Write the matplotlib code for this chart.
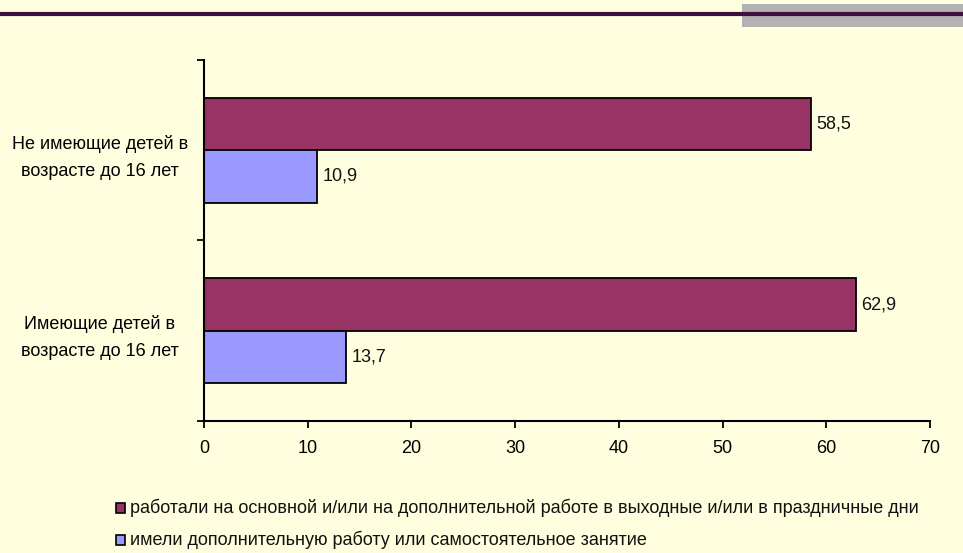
import matplotlib.pyplot as plt
from matplotlib.patches import Rectangle
from matplotlib.lines import Line2D
from matplotlib.transforms import ScaledTranslation

plt.rcParams['font.family'] = ['Liberation Sans', 'DejaVu Sans']

categories = ['Имеющие детей в\nвозрасте до 16 лет', 'Не имеющие детей в\nвозрасте до 16 лет']
weekend_work = [62.9, 58.5]
extra_job = [13.7, 10.9]
series_names = ['работали на основной и/или на дополнительной работе в выходные и/или в праздничные дни',
                'имели дополнительную работу или самостоятельное занятие']
xticks = [0, 10, 20, 30, 40, 50, 60, 70]

bg = '#FFFFE0'
c_purple = '#993366'
c_blue = '#9999FF'
fs = 13

fig = plt.figure(figsize=(9.63, 5.53), dpi=100, facecolor=bg)

# decorative header: gray block and dark line
fig.patches.append(Rectangle((0.7705, 0.9512), 0.24, 0.0416, transform=fig.transFigure,
                             facecolor='#B2B2B2', edgecolor='none', zorder=1))
fig.lines.append(Line2D([0, 1], [0.9747, 0.9747], transform=fig.transFigure,
                        color='#3F0F3F', linewidth=3, zorder=2))

ax = fig.add_axes([0.2118, 0.2387, 0.7539, 0.6528])
ax.set_facecolor(bg)

h = 0.29
pos = [0, 1]
b1 = ax.barh([p + h / 2 for p in pos], weekend_work, height=h, color=c_purple,
             edgecolor='black', linewidth=1.3)
b2 = ax.barh([p - h / 2 for p in pos], extra_job, height=h, color=c_blue,
             edgecolor='black', linewidth=1.3)

for bars, vals in [(b1, weekend_work), (b2, extra_job)]:
    for b, v in zip(bars, vals):
        ax.text(v + 0.5, b.get_y() + b.get_height() / 2, f'{v}'.replace('.', ','),
                va='center', ha='left', fontsize=fs, color='#111111')

ax.set_xlim(0, 70)
ax.set_ylim(-0.5, 1.5)
ax.set_xticks(xticks)
ax.set_xticklabels([str(t) for t in xticks], fontsize=fs)
ax.set_yticks([-0.5, 0.5, 1.5])
ax.set_yticklabels([])
ax.set_yticks(pos, minor=True)
labels = ax.set_yticklabels(categories, minor=True, fontsize=fs, ha='center', linespacing=1.75)
for lab in labels:
    lab.set_transform(lab.get_transform() + ScaledTranslation(0, 0.03, fig.dpi_scale_trans))
ax.tick_params(axis='y', which='minor', length=0, pad=75)
ax.tick_params(axis='y', which='major', length=5, width=1.3)
ax.tick_params(axis='x', length=5, width=1.3, pad=9)
for s in ['top', 'right']:
    ax.spines[s].set_visible(False)
for s in ['left', 'bottom']:
    ax.spines[s].set_linewidth(1.5)

# legend
for i, (name, col) in enumerate(zip(series_names, [c_purple, c_blue])):
    y = 1 - (508 + i * 32) / 553
    fig.patches.append(Rectangle((116 / 963, y - 0.009), 9 / 963, 0.018, transform=fig.transFigure,
                                 facecolor=col, edgecolor='black', linewidth=1.2))
    fig.text(130 / 963, y, name, va='center', ha='left', fontsize=fs, color='#111111')

fig.savefig('out.png', dpi=100, facecolor=bg)
